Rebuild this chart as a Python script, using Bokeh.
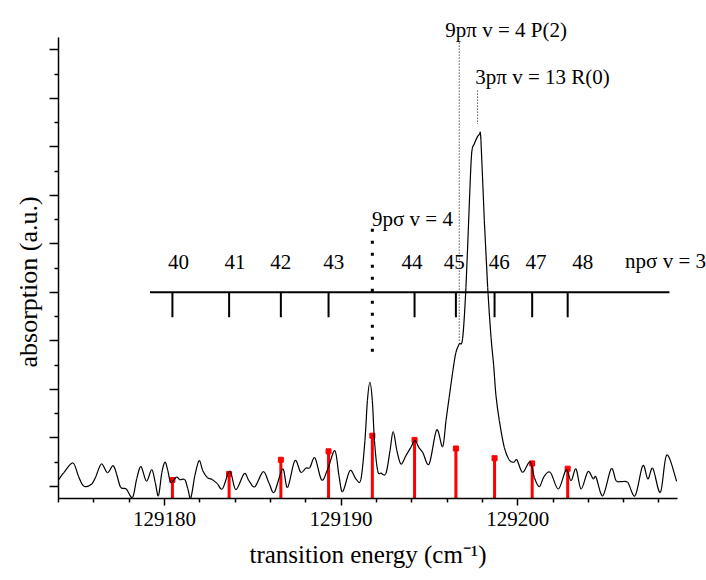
import math
from bokeh.plotting import figure
from bokeh.models import Range1d, FixedTicker, Title
from bokeh.core.properties import value
from bokeh.embed import file_html
from bokeh.resources import INLINE

# ---------------- data ----------------
energy = [129174.00, 129174.30, 129174.82, 129175.14, 129175.44, 129175.88, 129176.11, 129176.43,
          129176.77, 129177.09, 129177.30, 129177.52, 129177.84, 129178.19, 129178.43, 129178.67,
          129178.98, 129179.28, 129179.48, 129179.66, 129179.85, 129180.03, 129180.19, 129180.36,
          129180.68, 129180.87, 129181.15, 129181.32, 129181.49, 129181.72, 129181.96, 129182.17,
          129182.44, 129182.72, 129182.99, 129183.29, 129183.70, 129184.04, 129184.51, 129184.78,
          129185.12, 129185.59, 129185.91, 129186.22, 129186.69, 129186.97, 129187.38, 129187.72,
          129188.01, 129188.23, 129188.52, 129188.90, 129189.25, 129189.65, 129189.88, 129190.09,
          129190.50, 129190.84, 129191.12, 129191.35, 129191.49, 129191.63, 129191.77, 129191.89,
          129192.07, 129192.26, 129192.54, 129192.77, 129192.95, 129193.16, 129193.39, 129193.67,
          129193.95, 129194.18, 129194.41, 129194.63, 129194.99, 129195.41, 129195.75, 129195.94,
          129196.12, 129196.33, 129196.50, 129196.69, 129196.88, 129197.07, 129197.26, 129197.39,
          129197.54, 129197.82, 129197.92, 129198.11, 129198.30, 129198.49, 129198.64, 129198.77,
          129198.96, 129199.24, 129199.52, 129199.77, 129199.96, 129200.28, 129200.70, 129200.94,
          129201.22, 129201.49, 129201.85, 129202.30, 129202.74, 129203.02, 129203.30, 129203.59,
          129203.97, 129204.27, 129204.44, 129204.82, 129205.29, 129205.57, 129205.85, 129206.23,
          129206.65, 129207.08, 129207.37, 129207.65, 129208.08, 129208.44, 129209.00]
absorption = [0.132, 0.282, 0.482, 0.200, 0.004, 0.049, 0.200, 0.462,
              0.282, 0.427, 0.241, -0.021, -0.054, -0.227, 0.159, 0.406,
              0.107, 0.344, 0.076, -0.192, 0.282, 0.499, 0.324, 0.082,
              0.190, 0.138, 0.138, -0.047, -0.239, 0.221, 0.530, 0.324,
              0.179, 0.138, 0.056, -0.047, 0.313, -0.068, 0.262, 0.118,
              -0.006, 0.303, 0.076, -0.120, 0.359, -0.021, 0.530, 0.289,
              0.379, 0.386, 0.586, 0.132, 0.365, 0.736, 0.221, -0.109,
              0.324, 0.153, 0.138, 0.942, 1.767, 2.144, 1.767, 0.942,
              0.324, 0.272, 0.268, 0.736, 1.128, 0.736, 0.462, 0.633,
              0.804, 0.942, 0.798, 0.695, 0.462, 1.163, 0.819, 1.355,
              1.835, 2.386, 2.757, 2.936, 3.045, 4.103, 5.823, 6.854,
              7.060, 7.252, 7.128, 5.478, 4.103, 3.072, 2.489, 1.870,
              1.355, 0.804, 0.544, 0.495, 0.544, 0.289, 0.509, 0.186,
              -0.006, 0.200, 0.289, -0.054, 0.338, 0.118, 0.359, -0.054,
              0.303, 0.159, 0.186, -0.192, 0.359, 0.118, 0.097, 0.082,
              -0.192, 0.427, 0.153, 0.371, -0.124, 0.647, 0.103]

# np-sigma v=3 Rydberg series (n = 40..48) positions
n_levels = ["40", "41", "42", "43", "44", "45", "46", "47", "48"]
npsigma_pos = [129180.45, 129183.66, 129186.59, 129189.29, 129194.16,
               129196.50, 129198.69, 129200.82, 129202.83]
n_label_pos = [129180.79, 129184.00, 129186.59, 129189.58, 129194.01,
               129196.41, 129198.96, 129201.04, 129203.68]

# calculated stick spectrum
stick_pos = [129180.45, 129183.66, 129186.59, 129189.29, 129191.77,
             129194.16, 129196.50, 129198.69, 129200.82, 129202.83]
stick_int = [0.132, 0.256, 0.548, 0.722, 1.045, 0.957, 0.781, 0.581, 0.474, 0.365]

# assigned perturbing lines
pos_9psigma = 129191.77
pos_9ppi = 129196.69
pos_3ppi = 129197.73

x_ticks = [129180, 129190, 129200]
x_tick_labels = ["129180", "129190", "129200"]
x_minor = [129174, 129176, 129178, 129182, 129184, 129186, 129188, 129192, 129194,
           129196, 129198, 129202, 129204, 129206, 129208]
y_ticks = [0, 1, 2, 3, 4, 5, 6, 7, 8, 9]
y_minor = [0.5, 1.5, 2.5, 3.5, 4.5, 5.5, 6.5, 7.5, 8.5]

X_AXIS = (129174.0, 129209.05)
Y_AXIS = (-0.25, 9.25)
FONT = "Liberation Serif"

# frame extends to top/right edge so that annotations are not clipped;
# the axis lines are limited with bounds
p = figure(width=706, height=580, output_backend="svg", toolbar_location=None,
           x_range=Range1d(129174.0, 129210.69), y_range=Range1d(-0.25, 10.018),
           min_border_left=58, min_border_right=0, min_border_top=0, min_border_bottom=82)
p.outline_line_color = None
p.grid.visible = False
p.background_fill_color = "white"
p.border_fill_color = "white"

# axes
xa = p.xaxis[0]
xa.bounds = X_AXIS
xa.ticker = FixedTicker(ticks=x_ticks, minor_ticks=x_minor)
xa.major_label_overrides = {t: l for t, l in zip(x_ticks, x_tick_labels)}
xa.major_label_text_font = FONT
xa.major_label_text_font_size = "21px"
xa.major_label_text_color = "black"
xa.major_label_standoff = 6
xa.major_tick_out = 7
xa.major_tick_in = 0
xa.minor_tick_out = 4
xa.minor_tick_in = 0
for attr in ("axis_line", "major_tick_line", "minor_tick_line"):
    setattr(xa, attr + "_color", "black")
    setattr(xa, attr + "_width", 1.5)

ya = p.yaxis[0]
ya.bounds = Y_AXIS
ya.ticker = FixedTicker(ticks=y_ticks, minor_ticks=y_minor)
ya.major_label_overrides = {t: "" for t in y_ticks}
ya.major_label_standoff = 0
ya.major_tick_out = 9
ya.major_tick_in = 0
ya.minor_tick_out = 4
ya.minor_tick_in = 0
for attr in ("axis_line", "major_tick_line", "minor_tick_line"):
    setattr(ya, attr + "_color", "black")
    setattr(ya, attr + "_width", 1.5)

# axis titles
p.add_layout(Title(text="absorption (a.u.)", align="left", offset=131, standoff=14,
                   text_font=FONT, text_font_size="26px",
                   text_font_style="normal", text_color="black"), "left")
p.add_layout(Title(text="transition energy (cm\u207b\u00b9)", align="left", offset=191,
                   standoff=21, text_font=FONT, text_font_size="25px",
                   text_font_style="normal", text_color="black"), "below")

# stick spectrum
p.segment(x0=stick_pos, y0=[Y_AXIS[0]] * len(stick_pos), x1=stick_pos, y1=stick_int,
          line_color="#ff0000", line_width=3)
p.scatter(x=stick_pos, y=stick_int, marker="square", size=5,
          fill_color="#ff0000", line_color="#ff0000")

# measured spectrum, drawn as a smooth curve through the read points (Catmull-Rom -> Bezier)
n = len(energy)
bx0, by0, bx1, by1, bcx0, bcy0, bcx1, bcy1 = [], [], [], [], [], [], [], []
for i in range(n - 1):
    im1 = max(i - 1, 0)
    ip2 = min(i + 2, n - 1)
    bx0.append(energy[i]); by0.append(absorption[i])
    bx1.append(energy[i + 1]); by1.append(absorption[i + 1])
    bcx0.append(energy[i] + (energy[i + 1] - energy[im1]) / 6.0)
    bcy0.append(absorption[i] + (absorption[i + 1] - absorption[im1]) / 6.0)
    bcx1.append(energy[i + 1] - (energy[ip2] - energy[i]) / 6.0)
    bcy1.append(absorption[i + 1] - (absorption[ip2] - absorption[i]) / 6.0)
p.bezier(x0=bx0, y0=by0, x1=bx1, y1=by1, cx0=bcx0, cy0=bcy0, cx1=bcx1, cy1=bcy1,
         line_color="black", line_width=1.2)

# np-sigma series bar
bar_y = 4.0
p.segment(x0=[129179.18], y0=[bar_y], x1=[129208.59], y1=[bar_y], line_color="black", line_width=2)
p.segment(x0=npsigma_pos, y0=[bar_y] * len(npsigma_pos), x1=npsigma_pos,
          y1=[bar_y - 0.515] * len(npsigma_pos), line_color="black", line_width=2)
p.text(x=n_label_pos, y=[4.63] * len(n_levels), text=n_levels,
       text_font=value(FONT), text_font_size="21px", text_align="center",
       text_baseline="middle", text_color="black")

# assignment markers
p.segment(x0=[pos_9psigma], y0=[5.31], x1=[pos_9psigma], y1=[2.61],
          line_color="black", line_width=3, line_dash="3 9")
p.segment(x0=[pos_9ppi], y0=[9.15], x1=[pos_9ppi], y1=[3.0],
          line_color="black", line_width=1, line_dash="1 2")
p.segment(x0=[pos_3ppi], y0=[8.16], x1=[pos_3ppi], y1=[7.47],
          line_color="black", line_width=1, line_dash="1 2")

def lab(x, y, t, baseline="alphabetic"):
    p.text(x=[x], y=[y], text=[t], text_font=value(FONT), text_font_size="21px",
           text_align="left", text_baseline=baseline, text_color="black")

lab(129195.90, 9.41, "9pπ v = 4 P(2)")
lab(129197.60, 8.45, "3pπ v = 13 R(0)")
lab(129191.75, 5.51, "9pσ v = 4")
lab(129206.08, 4.65, "npσ v = 3", baseline="middle")

open("out.html", "w").write(file_html(p, INLINE))
